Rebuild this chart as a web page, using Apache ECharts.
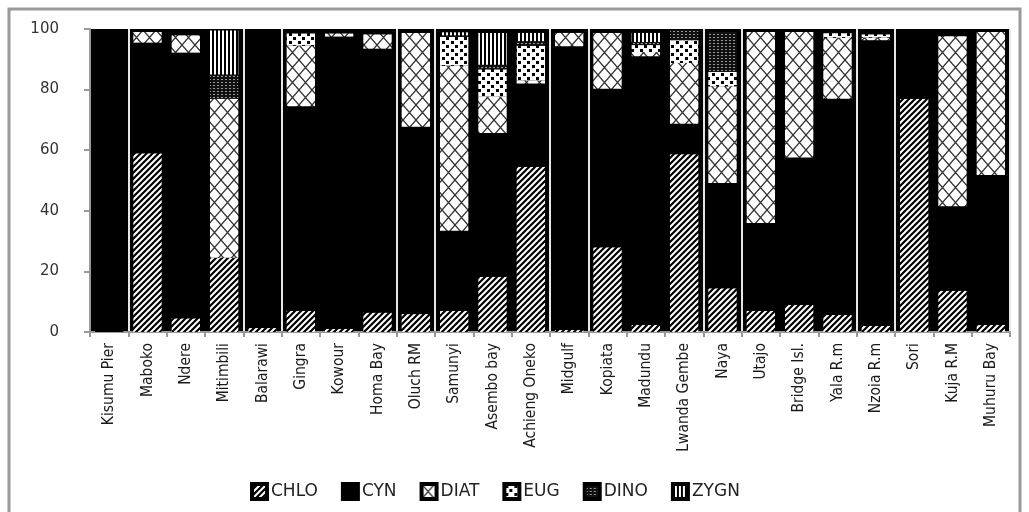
<!DOCTYPE html>
<html>
<head>
<meta charset="utf-8">
<script src="https://cdn.jsdelivr.net/npm/echarts@6/dist/echarts.min.js"></script>
<style>
  html, body { margin: 0; padding: 0; background: #fff; }
  #chart { width: 1029px; height: 512px; }
</style>
</head>
<body>
<div id="chart"></div>
<script>
// sampling sites
var sites = ['Kisumu Pier', 'Maboko', 'Ndere', 'Mitimbili', 'Balarawi', 'Gingra', 'Kowour', 'Homa Bay',
    'Oluch RM', 'Samunyi', 'Asembo bay', 'Achieng Oneko', 'Midgulf', 'Kopiata', 'Madundu', 'Lwanda Gembe',
    'Naya', 'Utajo', 'Bridge Isl.', 'Yala R.m', 'Nzoia R.m', 'Sori', 'Kuja R.M', 'Muhuru Bay'];

var yTicks = [0, 20, 40, 60, 80, 100];

// relative abundance (%) per group
var chlo = [0, 59, 4.5, 24.5, 1.3, 7, 1, 6.4, 5.9, 7, 18.2, 54.5, 0.7, 28, 2.3, 58.7, 14.4, 7, 8.9, 5.6, 2, 77, 13.6, 2.3];
var cyn  = [100, 36.5, 87.7, 0, 98.7, 67.5, 96.5, 87.1, 61.8, 26.4, 47.5, 27.5, 93.6, 52.3, 88.7, 10, 34.8, 29, 48.7, 71.4, 94.3, 23, 27.9, 49.5];
var diat = [0, 3.5, 5.7, 52.5, 0, 20, 1, 4.7, 31, 54.5, 12, 1, 4.4, 18.4, 1.4, 20.1, 31.9, 63, 41.4, 20.1, 0.9, 0, 56.1, 47.2];
var eug  = [0, 0, 0, 0, 0, 4, 0, 0, 0, 9.5, 9, 11.5, 0, 0, 2.3, 7.5, 4.7, 0, 0, 1.5, 1, 0, 0, 0];
var dino = [0, 0, 0, 8, 0, 0, 0, 0, 0, 0.5, 1.5, 1.5, 0, 0, 1, 3.4, 13.2, 0, 0, 0, 0, 0, 0, 0];
var zygn = [0, 0, 0, 14.5, 0, 0, 0, 0, 0, 1, 10.5, 2.7, 0, 0, 3, 0, 0, 0, 0, 0, 0, 0, 0, 0];

// pattern tiles
function tile(w, h, draw) {
    var c = document.createElement('canvas');
    c.width = w;
    c.height = h;
    var ctx = c.getContext('2d');
    draw(ctx, w, h);
    return { image: c, repeat: 'repeat' };
}

var pHatch = tile(6, 6, function(ctx, w, h) {
    ctx.fillStyle = '#fff';
    ctx.fillRect(0, 0, w, h);
    ctx.strokeStyle = '#000';
    ctx.lineWidth = 2.2;
    ctx.beginPath();
    ctx.moveTo(-1, h + 1); ctx.lineTo(w + 1, -1);
    ctx.moveTo(-1, 1); ctx.lineTo(1, -1);
    ctx.moveTo(w - 1, h + 1); ctx.lineTo(w + 1, h - 1);
    ctx.stroke();
});

var pCross = tile(13, 15, function(ctx, w, h) {
    ctx.fillStyle = '#fff';
    ctx.fillRect(0, 0, w, h);
    ctx.strokeStyle = '#333';
    ctx.lineWidth = 1.3;
    ctx.beginPath();
    ctx.moveTo(0, 0); ctx.lineTo(w, h);
    ctx.moveTo(w, 0); ctx.lineTo(0, h);
    ctx.stroke();
});

var pDots = tile(9, 8, function(ctx, w, h) {
    ctx.fillStyle = '#fff';
    ctx.fillRect(0, 0, w, h);
    ctx.fillStyle = '#000';
    ctx.fillRect(1, 1, 3, 3);
    ctx.fillRect(5, 5, 3, 3);
});

var pGrid = tile(4, 3, function(ctx, w, h) {
    ctx.fillStyle = '#111';
    ctx.fillRect(0, 0, w, h);
    ctx.fillStyle = '#999';
    ctx.fillRect(1, 1, 2, 1);
});

var pStripe = tile(4, 4, function(ctx, w, h) {
    ctx.fillStyle = '#fff';
    ctx.fillRect(0, 0, w, h);
    ctx.fillStyle = '#000';
    ctx.fillRect(0, 0, 2, h);
});

var groups = [
    { name: 'CHLO', data: chlo, color: pHatch },
    { name: 'CYN',  data: cyn,  color: '#000' },
    { name: 'DIAT', data: diat, color: pCross },
    { name: 'EUG',  data: eug,  color: pDots },
    { name: 'DINO', data: dino, color: pGrid },
    { name: 'ZYGN', data: zygn, color: pStripe }
];

var myChart = echarts.init(document.getElementById('chart'));

var option = {
    animation: false,
    backgroundColor: '#fff',
    graphic: [{
        type: 'rect',
        shape: { x: 9, y: 9, width: 1011, height: 530 },
        style: { fill: 'none', stroke: '#9a9a9a', lineWidth: 3 },
        silent: true
    }],
    grid: {
        left: 90,
        right: 19,
        top: 29,
        bottom: 180,
        show: true,
        backgroundColor: '#000',
        borderWidth: 0
    },
    legend: {
        left: 245,
        top: 477,
        itemWidth: 15,
        itemHeight: 15,
        itemGap: 23,
        icon: 'rect',
        itemStyle: { borderColor: '#000', borderWidth: 4 },
        textStyle: { fontFamily: 'DejaVu Sans', fontSize: 17, color: '#222', padding: [0, 0, 0, -1] },
        data: groups.map(function(g) { return g.name; })
    },
    xAxis: {
        type: 'category',
        data: sites,
        axisLine: { lineStyle: { color: '#999', width: 2 } },
        axisTick: { show: true, length: 5, lineStyle: { color: '#999', width: 2 } },
        splitLine: {
            show: true,
            interval: function(index) { return index % 4 === 0 || index % 4 === 1; },
            lineStyle: { color: '#e6e6e6', width: 2 }
        },
        axisLabel: {
            rotate: 90,
            interval: 0,
            margin: 11,
            fontFamily: "'DejaVu Sans Condensed', 'Liberation Sans', sans-serif",
            fontSize: 15.5,
            color: '#1a1a1a'
        }
    },
    yAxis: {
        type: 'value',
        min: yTicks[0],
        max: yTicks[yTicks.length - 1],
        interval: yTicks[1] - yTicks[0],
        axisLine: { show: true, lineStyle: { color: '#999', width: 2 } },
        axisTick: { show: true, length: 6, lineStyle: { color: '#999', width: 2 } },
        splitLine: { show: false },
        axisLabel: {
            margin: 31,
            fontFamily: 'DejaVu Sans',
            fontSize: 15,
            color: '#333'
        }
    },
    series: groups.map(function(g) {
        return {
            name: g.name,
            type: 'bar',
            stack: 'total',
            barCategoryGap: '26%',
            itemStyle: { color: g.color },
            data: g.data
        };
    })
};

myChart.setOption(option);
</script>
</body>
</html>
